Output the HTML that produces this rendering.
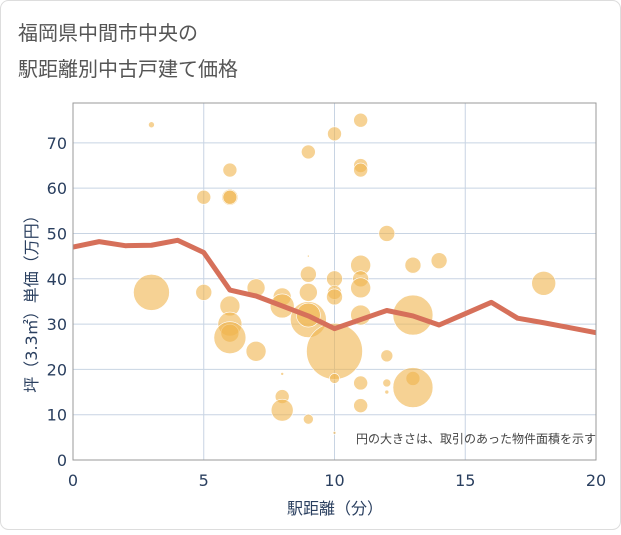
<!DOCTYPE html>
<html><head><meta charset="utf-8"><style>
body{margin:0;background:#fff}
svg text{font-family:"DejaVu Sans","Noto Sans CJK JP",sans-serif}
</style></head><body>
<svg id="c" width="621" height="530">
<rect x="0.5" y="0.5" width="620" height="529" rx="8" fill="#fff" stroke="#ddd"/>
<text x="18" y="40" font-size="20" fill="#555">福岡県中間市中央の</text>
<text x="18" y="76" font-size="20" fill="#555">駅距離別中古戸建て価格</text>
<g id="grid"></g><g id="bub"></g><g id="ln"></g><g id="ax"></g>
<text x="596" y="443" font-size="12" fill="#444" text-anchor="end">円の大きさは、取引のあった物件面積を示す</text>
<text x="335" y="514" font-size="16" fill="#2a3f5f" text-anchor="middle">駅距離（分）</text>
<text transform="translate(37,300) rotate(-90)" font-size="16" fill="#2a3f5f" text-anchor="middle">坪（3.3㎡）単価（万円）</text>
</svg>
<script>
const xTicks=[0,5,10,15,20];
const yTicks=[0,10,20,30,40,50,60,70];
const lineX=[0,1,2,3,4,5,6,7,8,9,10,11,12,13,14,15,16,17,18,19,20];
const lineY=[47,48.2,47.3,47.4,48.5,45.8,37.5,36.2,34,31.8,29,31,33,31.8,29.8,32.3,34.8,31.3,30.3,29.2,28.1];
const bubX=[3,3,5,5,6,6,6,6,6,6,6,7,7,8,8,8,8,8,9,9,9,9,9,9,9,10,10,10,10,10,10,10,11,11,11,11,11,11,11,11,11,12,12,12,12,13,13,13,13,14,18];
const bubY=[74,37,58,37,64,58,58,34,30,28,27,38,24,19,36,34,14,11,68,45,41,37,31,32,9,72,40,37,36,24,18,6,75,65,64,43,40,38,32,17,12,50,23,17,15,43,32,18,16,44,39];
const bubR=[3,18,7,8,7,8,7,10,12,9,16,9,10,1.5,9,12,7,11,7,1,8,9,18,12,5,7,8,7,8,28,5,1.5,7,7,7,10,8,10,10,7,7,8,6,4,2,8,20,7,20,8,12];
const L=73,R=596,T=103,B=460;
const sx=v=>L+(R-L)*v/20, sy=v=>B-(B-T)*v/78.8;
const NS="http://www.w3.org/2000/svg";
function mk(t,a,p){const e=document.createElementNS(NS,t);for(const k in a)e.setAttribute(k,a[k]);p.appendChild(e);return e;}
const g=document.getElementById('grid'),ax=document.getElementById('ax');
xTicks.forEach(v=>{const l=mk('line',{x1:sx(v),x2:sx(v),y1:T,y2:B,stroke:'#c8d4e3'},g);


const t=mk('text',{x:sx(v),y:B+26,'font-size':16,fill:'#2a3f5f','text-anchor':'middle'},ax);t.textContent=v;

});
yTicks.forEach(v=>{const l=mk('line',{x1:L,x2:R,y1:sy(v),y2:sy(v),stroke:'#c8d4e3'},g);


const t=mk('text',{x:L-6,y:sy(v)+6,'font-size':16,fill:'#2a3f5f','text-anchor':'end'},ax);t.textContent=v;

});
const fr=mk('rect',{x:L,y:T,width:R-L,height:B-T,fill:'none',stroke:'#999'},ax);


const bg=document.getElementById('bub');
bubX.forEach((x,i)=>{const c=mk('circle',{cx:sx(x),cy:sy(bubY[i]),r:bubR[i],fill:'#f0b44c','fill-opacity':0.6,stroke:'#fff','stroke-width':0.6},bg);

});
const p=mk('polyline',{points:lineX.map((x,i)=>sx(x)+','+sy(lineY[i])).join(' '),fill:'none',stroke:'#d6705a','stroke-width':5,'stroke-linejoin':'round'},document.getElementById('ln'));


</script>
</body></html>
